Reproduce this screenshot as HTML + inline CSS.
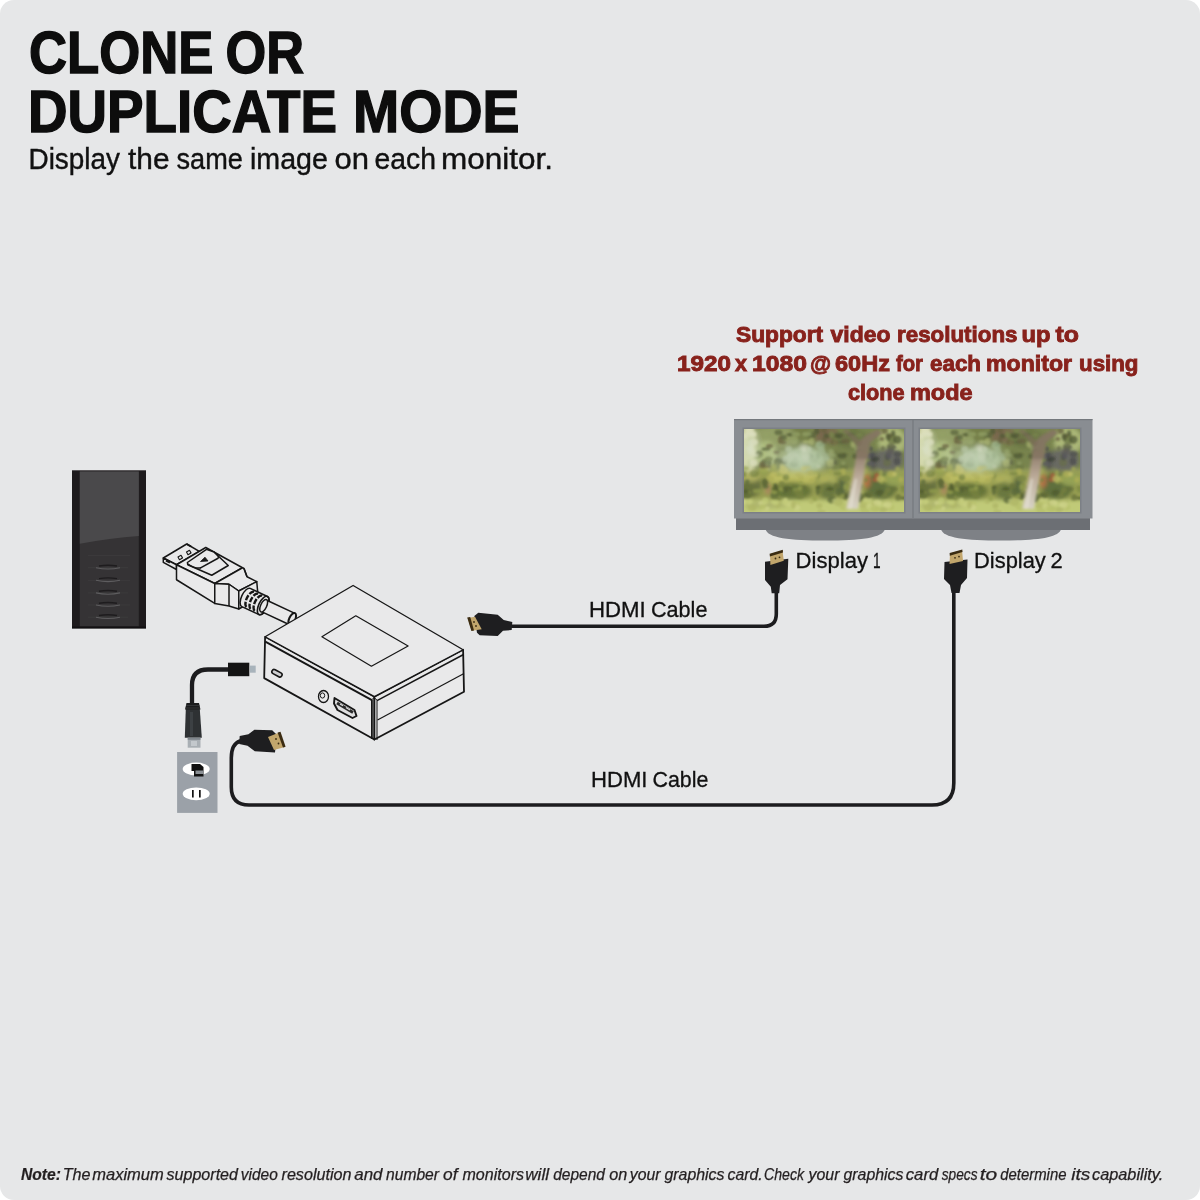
<!DOCTYPE html>
<html><head><meta charset="utf-8">
<style>
html,body{margin:0;padding:0;background:#fff;width:1200px;height:1200px;overflow:hidden}
#bg{position:absolute;left:0;top:0;width:1200px;height:1200px;background:#e6e7e8;border-radius:14px}
svg{position:absolute;left:0;top:0;will-change:transform}
text{font-family:"Liberation Sans",sans-serif}
</style></head><body>
<div id="bg"></div>
<svg width="1200" height="1200" viewBox="0 0 1200 1200">
<defs>
<filter id="blur" x="-10%" y="-10%" width="120%" height="120%"><feGaussianBlur stdDeviation="2.3"/></filter>
<filter id="blur3" x="-10%" y="-10%" width="120%" height="120%"><feGaussianBlur stdDeviation="1.5"/></filter>
<filter id="blur2" x="-10%" y="-10%" width="120%" height="120%"><feGaussianBlur stdDeviation="1.1"/></filter>
<linearGradient id="trunkG" x1="0" y1="0" x2="0" y2="1"><stop offset="0" stop-color="#806a60"/><stop offset="0.45" stop-color="#b8a49a"/><stop offset="1" stop-color="#d8d2cc"/></linearGradient>
<clipPath id="scr"><rect x="0" y="0" width="160" height="83"/></clipPath>
<linearGradient id="towerTop" x1="0" y1="0" x2="0" y2="1">
<stop offset="0" stop-color="#4a494b"/><stop offset="1" stop-color="#3d3c3e"/>
</linearGradient>
<g id="scene">
<rect x="0" y="0" width="160" height="83" fill="#8f985a"/>
<g filter="url(#blur)">
<rect x="-5" y="-5" width="170" height="45" fill="#6c7844"/>
<ellipse cx="30" cy="8" rx="26" ry="10" fill="#8a9660"/>
<ellipse cx="82" cy="6" rx="14" ry="8" fill="#6e5a44"/>
<ellipse cx="60" cy="5" rx="12" ry="6" fill="#66703e"/>
<ellipse cx="108" cy="10" rx="18" ry="10" fill="#5f6a3c"/>
<ellipse cx="148" cy="12" rx="14" ry="14" fill="#a6b274"/>
<ellipse cx="4" cy="20" rx="8" ry="26" fill="#d4d6a6"/>
<ellipse cx="22" cy="26" rx="11" ry="14" fill="#a8b87c"/>
<ellipse cx="60" cy="31" rx="22" ry="12" fill="#9db38c"/>
<ellipse cx="60" cy="20" rx="4" ry="4" fill="#c8cfb8"/>
<ellipse cx="89" cy="34" rx="4" ry="3.5" fill="#3a3e30"/>
<ellipse cx="144" cy="31" rx="15" ry="12" fill="#5a5a5c"/>
<rect x="126" y="22" width="6" height="20" fill="#46464a"/>
<rect x="-5" y="42" width="170" height="32" fill="#8e9448"/>
<ellipse cx="8" cy="56" rx="10" ry="12" fill="#5a6436"/>
<ellipse cx="7" cy="48" rx="9" ry="5" fill="#a8a85a"/>
<ellipse cx="48" cy="49" rx="24" ry="7" fill="#b6b65a"/>
<ellipse cx="48" cy="62" rx="20" ry="9" fill="#59672f"/>
<ellipse cx="83" cy="50" rx="9" ry="6" fill="#a4a856"/>
<ellipse cx="84" cy="62" rx="9" ry="9" fill="#5c6a34"/>
<ellipse cx="98" cy="58" rx="5" ry="10" fill="#4a5a34"/>
<ellipse cx="137" cy="57" rx="16" ry="14" fill="#4f6030"/>
<ellipse cx="150" cy="50" rx="10" ry="7" fill="#8c9a4e"/>
<ellipse cx="123" cy="52" rx="3.5" ry="7" fill="#b0603e"/>
<ellipse cx="24" cy="60" rx="2.5" ry="6" fill="#a87858"/>
<rect x="-5" y="71" width="170" height="17" fill="#bec874"/>
<ellipse cx="22" cy="76" rx="22" ry="3" fill="#a4aa66"/>
</g>
<g filter="url(#blur2)">
<ellipse cx="72.4" cy="46.5" rx="3.4" ry="3.6" fill="#6e7a3a" opacity="0.75"/>
<ellipse cx="30.4" cy="66.7" rx="3.9" ry="3.5" fill="#4a5a2c" opacity="0.75"/>
<ellipse cx="15.1" cy="25.2" rx="3.6" ry="3.7" fill="#4a5430" opacity="0.75"/>
<ellipse cx="101.5" cy="49.4" rx="4.9" ry="3.1" fill="#6e7a3a" opacity="0.75"/>
<ellipse cx="98.5" cy="13.1" rx="4.5" ry="1.7" fill="#4a5430" opacity="0.75"/>
<ellipse cx="5.7" cy="73.0" rx="2.1" ry="2.7" fill="#cdd28a" opacity="0.75"/>
<ellipse cx="70.5" cy="69.9" rx="2.7" ry="2.2" fill="#8a9444" opacity="0.75"/>
<ellipse cx="0.7" cy="7.1" rx="3.2" ry="2.9" fill="#e0dfc0" opacity="0.75"/>
<ellipse cx="149.1" cy="6.9" rx="2.9" ry="2.1" fill="#6e7a44" opacity="0.75"/>
<ellipse cx="46.2" cy="5.8" rx="2.3" ry="1.8" fill="#3e4628" opacity="0.75"/>
<ellipse cx="46.5" cy="5.5" rx="4.5" ry="1.5" fill="#4a5430" opacity="0.75"/>
<ellipse cx="33.6" cy="75.6" rx="3.1" ry="3.3" fill="#a9b060" opacity="0.75"/>
<ellipse cx="67.2" cy="47.0" rx="4.3" ry="2.2" fill="#b8b65c" opacity="0.75"/>
<ellipse cx="13.9" cy="27.6" rx="4.3" ry="1.8" fill="#8a9860" opacity="0.75"/>
<ellipse cx="39.4" cy="8.4" rx="3.4" ry="2.7" fill="#4a5430" opacity="0.75"/>
<ellipse cx="109.1" cy="15.6" rx="2.6" ry="3.3" fill="#a0aa68" opacity="0.75"/>
<ellipse cx="21.0" cy="53.4" rx="3.2" ry="4.0" fill="#3e4a24" opacity="0.75"/>
<ellipse cx="0.1" cy="71.7" rx="2.9" ry="3.7" fill="#cdd28a" opacity="0.75"/>
<ellipse cx="33.7" cy="32.7" rx="3.8" ry="2.9" fill="#3e4628" opacity="0.75"/>
<ellipse cx="6.7" cy="12.1" rx="2.8" ry="3.4" fill="#b8c090" opacity="0.75"/>
<ellipse cx="52.6" cy="24.6" rx="2.2" ry="2.0" fill="#98ac88" opacity="0.75"/>
<ellipse cx="101.9" cy="1.3" rx="3.1" ry="2.6" fill="#6e7a44" opacity="0.75"/>
<ellipse cx="153.5" cy="40.1" rx="2.4" ry="2.5" fill="#9aa04e" opacity="0.75"/>
<ellipse cx="100.4" cy="25.8" rx="4.5" ry="2.1" fill="#5e6a3a" opacity="0.75"/>
<ellipse cx="30.4" cy="61.4" rx="2.6" ry="3.9" fill="#8a9444" opacity="0.75"/>
<ellipse cx="141.2" cy="50.1" rx="2.3" ry="2.8" fill="#aaa850" opacity="0.75"/>
<ellipse cx="40.8" cy="61.4" rx="2.8" ry="3.6" fill="#4a5a2c" opacity="0.75"/>
<ellipse cx="95.4" cy="24.4" rx="4.8" ry="3.9" fill="#5e6a3a" opacity="0.75"/>
<ellipse cx="20.2" cy="39.8" rx="4.6" ry="3.0" fill="#c0bc64" opacity="0.75"/>
<ellipse cx="44.8" cy="76.1" rx="4.2" ry="1.7" fill="#c6cc7e" opacity="0.75"/>
<ellipse cx="65.8" cy="20.7" rx="2.5" ry="2.4" fill="#98ac88" opacity="0.75"/>
<ellipse cx="91.5" cy="10.9" rx="2.4" ry="2.6" fill="#6e7a44" opacity="0.75"/>
<ellipse cx="53.0" cy="60.8" rx="3.8" ry="1.9" fill="#8a9444" opacity="0.75"/>
<ellipse cx="5.6" cy="1.5" rx="4.1" ry="3.9" fill="#e0dfc0" opacity="0.75"/>
<ellipse cx="3.4" cy="52.8" rx="2.2" ry="2.3" fill="#4a5a2c" opacity="0.75"/>
<ellipse cx="21.9" cy="6.0" rx="3.6" ry="3.3" fill="#8a9860" opacity="0.75"/>
<ellipse cx="144.0" cy="61.2" rx="3.1" ry="3.2" fill="#6a7434" opacity="0.75"/>
<ellipse cx="144.1" cy="72.3" rx="4.8" ry="1.6" fill="#a9b060" opacity="0.75"/>
<ellipse cx="80.0" cy="1.2" rx="3.1" ry="3.0" fill="#5a5234" opacity="0.75"/>
<ellipse cx="97.4" cy="6.7" rx="2.3" ry="2.1" fill="#5a5234" opacity="0.75"/>
<ellipse cx="66.6" cy="27.4" rx="3.4" ry="2.7" fill="#7e9470" opacity="0.75"/>
<ellipse cx="86.6" cy="43.1" rx="2.1" ry="3.0" fill="#9aa04e" opacity="0.75"/>
<ellipse cx="77.0" cy="19.1" rx="3.5" ry="3.0" fill="#98ac88" opacity="0.75"/>
<ellipse cx="147.3" cy="21.2" rx="3.1" ry="1.9" fill="#4a4858" opacity="0.75"/>
<ellipse cx="97.9" cy="43.0" rx="4.0" ry="2.6" fill="#8e9a48" opacity="0.75"/>
<ellipse cx="142.7" cy="27.1" rx="2.6" ry="2.6" fill="#5a6040" opacity="0.75"/>
<ellipse cx="129.0" cy="75.9" rx="3.2" ry="3.0" fill="#c6cc7e" opacity="0.75"/>
<ellipse cx="50.6" cy="11.3" rx="3.1" ry="3.7" fill="#8a9860" opacity="0.75"/>
<ellipse cx="6.5" cy="5.3" rx="4.5" ry="1.8" fill="#e0dfc0" opacity="0.75"/>
<ellipse cx="75.4" cy="76.8" rx="3.1" ry="2.8" fill="#a9b060" opacity="0.75"/>
<ellipse cx="107.5" cy="59.5" rx="3.4" ry="1.7" fill="#8a9444" opacity="0.75"/>
<ellipse cx="5.0" cy="72.4" rx="4.0" ry="2.2" fill="#bfc874" opacity="0.75"/>
<ellipse cx="56.7" cy="53.9" rx="2.1" ry="1.8" fill="#8a9444" opacity="0.75"/>
<ellipse cx="72.8" cy="2.1" rx="2.8" ry="3.4" fill="#3e4628" opacity="0.75"/>
<ellipse cx="127.5" cy="81.7" rx="3.3" ry="3.1" fill="#bfc874" opacity="0.75"/>
<ellipse cx="104.8" cy="67.0" rx="4.1" ry="2.0" fill="#3e4a24" opacity="0.75"/>
<ellipse cx="76.0" cy="14.8" rx="4.3" ry="2.8" fill="#98ac88" opacity="0.75"/>
<ellipse cx="5.8" cy="18.8" rx="3.6" ry="3.9" fill="#e0dfc0" opacity="0.75"/>
<ellipse cx="80.1" cy="82.7" rx="3.2" ry="3.5" fill="#c6cc7e" opacity="0.75"/>
<ellipse cx="145.0" cy="7.2" rx="3.2" ry="2.6" fill="#5a5234" opacity="0.75"/>
<ellipse cx="31.5" cy="73.6" rx="3.1" ry="2.9" fill="#bfc874" opacity="0.75"/>
<ellipse cx="140.7" cy="66.1" rx="3.4" ry="3.1" fill="#6a7434" opacity="0.75"/>
<ellipse cx="32.8" cy="59.9" rx="4.8" ry="1.8" fill="#34401e" opacity="0.75"/>
<ellipse cx="38.8" cy="32.4" rx="4.9" ry="2.8" fill="#4a5430" opacity="0.75"/>
<ellipse cx="126.5" cy="26.6" rx="3.0" ry="1.7" fill="#4a4858" opacity="0.75"/>
<ellipse cx="70.5" cy="45.7" rx="3.5" ry="1.6" fill="#8e9a48" opacity="0.75"/>
<ellipse cx="129.5" cy="5.3" rx="2.1" ry="2.8" fill="#3e4628" opacity="0.75"/>
<ellipse cx="109.9" cy="76.0" rx="2.4" ry="2.8" fill="#a9b060" opacity="0.75"/>
<ellipse cx="115.8" cy="69.7" rx="3.3" ry="3.7" fill="#34401e" opacity="0.75"/>
<ellipse cx="92.6" cy="57.2" rx="3.3" ry="2.9" fill="#56622e" opacity="0.75"/>
<ellipse cx="133.0" cy="46.6" rx="2.9" ry="2.5" fill="#a84a30" opacity="0.75"/>
<ellipse cx="135.2" cy="74.7" rx="2.9" ry="1.9" fill="#c6cc7e" opacity="0.75"/>
<ellipse cx="87.2" cy="22.7" rx="2.6" ry="2.8" fill="#8a9860" opacity="0.75"/>
<ellipse cx="80.5" cy="50.2" rx="3.6" ry="1.6" fill="#aaa850" opacity="0.75"/>
<ellipse cx="146.8" cy="45.2" rx="3.5" ry="3.2" fill="#aaa850" opacity="0.75"/>
<ellipse cx="10.5" cy="44.7" rx="4.8" ry="3.5" fill="#6e7a3a" opacity="0.75"/>
<ellipse cx="64.7" cy="20.4" rx="2.4" ry="2.6" fill="#b4c0a4" opacity="0.75"/>
<ellipse cx="130.5" cy="74.7" rx="3.6" ry="1.8" fill="#a9b060" opacity="0.75"/>
<ellipse cx="67.1" cy="2.4" rx="2.4" ry="3.4" fill="#6e7a44" opacity="0.75"/>
<ellipse cx="3.6" cy="16.1" rx="2.0" ry="2.2" fill="#cfd0a0" opacity="0.75"/>
<ellipse cx="115.8" cy="20.3" rx="2.3" ry="3.3" fill="#8a9860" opacity="0.75"/>
<ellipse cx="19.6" cy="42.4" rx="4.2" ry="3.3" fill="#8e9a48" opacity="0.75"/>
<ellipse cx="140.6" cy="1.9" rx="3.2" ry="2.8" fill="#5a5234" opacity="0.75"/>
<ellipse cx="25.6" cy="17.0" rx="3.6" ry="2.0" fill="#5a5234" opacity="0.75"/>
<ellipse cx="34.6" cy="45.1" rx="4.6" ry="2.1" fill="#9aa04e" opacity="0.75"/>
<ellipse cx="118.5" cy="67.3" rx="2.9" ry="2.3" fill="#56622e" opacity="0.75"/>
<ellipse cx="147.6" cy="18.1" rx="4.7" ry="1.8" fill="#3a3a44" opacity="0.75"/>
<ellipse cx="38.3" cy="60.3" rx="3.2" ry="2.6" fill="#6a7434" opacity="0.75"/>
<ellipse cx="150.6" cy="45.1" rx="2.4" ry="2.5" fill="#c0bc64" opacity="0.75"/>
<ellipse cx="109.6" cy="1.5" rx="3.7" ry="2.4" fill="#5e6a3a" opacity="0.75"/>
<ellipse cx="131.4" cy="30.0" rx="3.9" ry="2.4" fill="#2e3030" opacity="0.75"/>
<ellipse cx="159.8" cy="69.1" rx="3.4" ry="1.6" fill="#3e4a24" opacity="0.75"/>
<ellipse cx="121.9" cy="50.9" rx="2.4" ry="2.0" fill="#6e7a3a" opacity="0.75"/>
<ellipse cx="32.6" cy="69.7" rx="4.8" ry="1.7" fill="#6a7434" opacity="0.75"/>
<ellipse cx="9.9" cy="79.0" rx="2.2" ry="1.7" fill="#a9b060" opacity="0.75"/>
<ellipse cx="62.5" cy="35.4" rx="3.3" ry="3.0" fill="#8ea47c" opacity="0.75"/>
<ellipse cx="2.1" cy="58.2" rx="2.5" ry="2.6" fill="#56622e" opacity="0.75"/>
<ellipse cx="118.3" cy="33.6" rx="3.8" ry="1.7" fill="#5e6a3a" opacity="0.75"/>
<ellipse cx="126.8" cy="26.9" rx="4.4" ry="3.3" fill="#4a4858" opacity="0.75"/>
<ellipse cx="137.7" cy="52.2" rx="2.6" ry="3.0" fill="#8a9444" opacity="0.75"/>
<ellipse cx="54.6" cy="63.3" rx="4.7" ry="3.4" fill="#6a7434" opacity="0.75"/>
<ellipse cx="124.5" cy="67.6" rx="2.4" ry="2.3" fill="#4a5a2c" opacity="0.75"/>
<ellipse cx="86.2" cy="30.7" rx="4.3" ry="2.5" fill="#8a9860" opacity="0.75"/>
<ellipse cx="115.6" cy="5.9" rx="2.9" ry="1.8" fill="#6e7a44" opacity="0.75"/>
<ellipse cx="142.1" cy="82.2" rx="2.1" ry="2.2" fill="#cdd28a" opacity="0.75"/>
<ellipse cx="153.8" cy="24.8" rx="4.0" ry="2.9" fill="#3a3a44" opacity="0.75"/>
<ellipse cx="85.3" cy="32.3" rx="3.9" ry="3.3" fill="#8a9860" opacity="0.75"/>
<ellipse cx="121.9" cy="81.3" rx="2.3" ry="1.8" fill="#bfc874" opacity="0.75"/>
<ellipse cx="37.9" cy="36.8" rx="2.2" ry="2.0" fill="#a0aa68" opacity="0.75"/>
<ellipse cx="60.1" cy="8.2" rx="2.8" ry="2.4" fill="#6e7a44" opacity="0.75"/>
<ellipse cx="86.5" cy="34.5" rx="3.7" ry="4.0" fill="#a0aa68" opacity="0.75"/>
<ellipse cx="102.1" cy="67.2" rx="3.6" ry="3.2" fill="#3e4a24" opacity="0.75"/>
<ellipse cx="152.9" cy="32.1" rx="3.2" ry="3.9" fill="#3a3a44" opacity="0.75"/>
<ellipse cx="136.9" cy="45.0" rx="2.2" ry="3.9" fill="#9aa04e" opacity="0.75"/>
<ellipse cx="67.3" cy="43.7" rx="2.9" ry="2.8" fill="#9aa04e" opacity="0.75"/>
<ellipse cx="77.3" cy="22.4" rx="4.0" ry="3.4" fill="#8ea47c" opacity="0.75"/>
<ellipse cx="4.3" cy="64.1" rx="2.1" ry="1.9" fill="#8a9444" opacity="0.75"/>
<ellipse cx="120.7" cy="32.4" rx="4.2" ry="1.6" fill="#6e7a44" opacity="0.75"/>
<ellipse cx="158.2" cy="78.4" rx="4.4" ry="2.1" fill="#bfc874" opacity="0.75"/>
<ellipse cx="115.1" cy="20.8" rx="2.7" ry="2.8" fill="#3e4628" opacity="0.75"/>
<ellipse cx="150.0" cy="60.0" rx="3.8" ry="1.8" fill="#56622e" opacity="0.75"/>
<ellipse cx="99.9" cy="37.8" rx="4.6" ry="2.4" fill="#5e6a3a" opacity="0.75"/>
<ellipse cx="24.8" cy="30.2" rx="4.0" ry="2.6" fill="#5e6a3a" opacity="0.75"/>
<ellipse cx="41.9" cy="48.3" rx="3.1" ry="3.4" fill="#6e7a3a" opacity="0.75"/>
<ellipse cx="130.4" cy="11.4" rx="4.2" ry="2.1" fill="#6e7a44" opacity="0.75"/>
<ellipse cx="18.2" cy="74.1" rx="3.9" ry="2.4" fill="#cdd28a" opacity="0.75"/>
<ellipse cx="43.4" cy="56.9" rx="4.1" ry="2.0" fill="#8a9444" opacity="0.75"/>
<ellipse cx="44.6" cy="19.9" rx="3.5" ry="3.1" fill="#a8b898" opacity="0.75"/>
<ellipse cx="31.4" cy="56.7" rx="2.2" ry="2.2" fill="#34401e" opacity="0.75"/>
<ellipse cx="68.0" cy="51.7" rx="2.7" ry="2.2" fill="#aaa850" opacity="0.75"/>
<ellipse cx="120.9" cy="75.8" rx="3.7" ry="3.1" fill="#c6cc7e" opacity="0.75"/>
<ellipse cx="59.7" cy="39.7" rx="3.0" ry="2.7" fill="#b8b65c" opacity="0.75"/>
<ellipse cx="21.3" cy="72.2" rx="3.3" ry="3.6" fill="#bfc874" opacity="0.75"/>
<ellipse cx="134.1" cy="63.8" rx="3.3" ry="2.1" fill="#4a5a2c" opacity="0.75"/>
<ellipse cx="129.6" cy="30.6" rx="3.0" ry="2.9" fill="#2e3030" opacity="0.75"/>
<ellipse cx="119.4" cy="76.4" rx="4.0" ry="3.0" fill="#a9b060" opacity="0.75"/>
<ellipse cx="73.9" cy="26.9" rx="2.2" ry="2.9" fill="#7e9470" opacity="0.75"/>
<ellipse cx="77.6" cy="56.9" rx="4.5" ry="1.5" fill="#6a7434" opacity="0.75"/>
<ellipse cx="49.6" cy="75.6" rx="2.2" ry="2.3" fill="#cdd28a" opacity="0.75"/>
<ellipse cx="116.0" cy="57.6" rx="2.7" ry="3.1" fill="#56622e" opacity="0.75"/>
<ellipse cx="52.3" cy="75.2" rx="4.1" ry="2.9" fill="#b3bc66" opacity="0.75"/>
<ellipse cx="147.0" cy="78.0" rx="3.3" ry="3.5" fill="#b3bc66" opacity="0.75"/>
<ellipse cx="48.8" cy="26.4" rx="4.9" ry="3.3" fill="#b4c0a4" opacity="0.75"/>
<ellipse cx="82.6" cy="7.0" rx="3.1" ry="2.4" fill="#3e4628" opacity="0.75"/>
<ellipse cx="63.3" cy="32.2" rx="4.2" ry="2.4" fill="#a8b898" opacity="0.75"/>
<ellipse cx="62.4" cy="12.8" rx="3.7" ry="1.9" fill="#a0aa68" opacity="0.75"/>
<ellipse cx="121.4" cy="73.1" rx="4.4" ry="2.1" fill="#b3bc66" opacity="0.75"/>
<ellipse cx="9.2" cy="13.2" rx="4.9" ry="3.1" fill="#e0dfc0" opacity="0.75"/>
<ellipse cx="128.7" cy="5.3" rx="2.9" ry="2.9" fill="#a0aa68" opacity="0.75"/>
<ellipse cx="53.5" cy="22.7" rx="4.7" ry="1.7" fill="#98ac88" opacity="0.75"/>
<ellipse cx="101.5" cy="11.9" rx="4.4" ry="2.6" fill="#5a5234" opacity="0.75"/>
<ellipse cx="114.0" cy="40.6" rx="3.0" ry="2.6" fill="#9aa04e" opacity="0.75"/>
<ellipse cx="56.1" cy="67.0" rx="4.0" ry="2.7" fill="#6a7434" opacity="0.75"/>
<ellipse cx="86.0" cy="59.8" rx="3.9" ry="1.6" fill="#34401e" opacity="0.75"/>
<ellipse cx="121.1" cy="81.8" rx="4.6" ry="3.5" fill="#b3bc66" opacity="0.75"/>
<ellipse cx="133.4" cy="73.8" rx="3.9" ry="2.8" fill="#cdd28a" opacity="0.75"/>
<ellipse cx="113.6" cy="66.6" rx="4.8" ry="3.8" fill="#4a5a2c" opacity="0.75"/>
<ellipse cx="39.3" cy="13.5" rx="3.1" ry="1.9" fill="#5a5234" opacity="0.75"/>
<ellipse cx="32.7" cy="35.3" rx="2.8" ry="3.7" fill="#6e7a44" opacity="0.75"/>
<ellipse cx="75.4" cy="60.7" rx="3.9" ry="3.4" fill="#6a7434" opacity="0.75"/>
<ellipse cx="28.7" cy="5.2" rx="2.1" ry="2.7" fill="#8a9860" opacity="0.75"/>
<ellipse cx="128.1" cy="25.9" rx="2.6" ry="2.0" fill="#3a3a44" opacity="0.75"/>
<ellipse cx="37.7" cy="59.5" rx="3.5" ry="2.6" fill="#8a9444" opacity="0.75"/>
<ellipse cx="143.1" cy="33.4" rx="3.9" ry="3.9" fill="#5a6040" opacity="0.75"/>
<ellipse cx="88.1" cy="70.8" rx="4.7" ry="3.8" fill="#4a5a2c" opacity="0.75"/>
<ellipse cx="54.7" cy="45.4" rx="3.4" ry="2.1" fill="#aaa850" opacity="0.75"/>
<ellipse cx="8.0" cy="78.6" rx="4.9" ry="3.5" fill="#a9b060" opacity="0.75"/>
<ellipse cx="123.9" cy="65.4" rx="4.0" ry="2.1" fill="#3e4a24" opacity="0.75"/>
<ellipse cx="1.7" cy="39.2" rx="3.4" ry="2.1" fill="#8e9a48" opacity="0.75"/>
<ellipse cx="67.4" cy="72.6" rx="2.5" ry="2.3" fill="#a9b060" opacity="0.75"/>
<ellipse cx="41.5" cy="72.1" rx="2.4" ry="3.4" fill="#cdd28a" opacity="0.75"/>
<ellipse cx="99.1" cy="42.8" rx="2.5" ry="3.4" fill="#aaa850" opacity="0.75"/>
<ellipse cx="0.2" cy="68.2" rx="4.5" ry="1.7" fill="#56622e" opacity="0.75"/>
<ellipse cx="43.2" cy="59.5" rx="4.7" ry="3.2" fill="#3e4a24" opacity="0.75"/>
<ellipse cx="13.3" cy="62.1" rx="4.6" ry="2.3" fill="#8a9444" opacity="0.75"/>
<ellipse cx="126.3" cy="34.6" rx="4.3" ry="2.6" fill="#4a4858" opacity="0.75"/>
<ellipse cx="6.0" cy="34.3" rx="2.5" ry="3.6" fill="#b8c090" opacity="0.75"/>
<ellipse cx="49.8" cy="25.8" rx="3.7" ry="4.0" fill="#98ac88" opacity="0.75"/>
<ellipse cx="106.7" cy="5.6" rx="4.1" ry="1.8" fill="#4a5430" opacity="0.75"/>
<ellipse cx="63.1" cy="38.3" rx="4.0" ry="1.5" fill="#aaa850" opacity="0.75"/>
<ellipse cx="60.3" cy="58.9" rx="2.9" ry="1.8" fill="#56622e" opacity="0.75"/>
<ellipse cx="123.5" cy="71.1" rx="4.7" ry="1.9" fill="#c6cc7e" opacity="0.75"/>
<ellipse cx="100.4" cy="77.8" rx="4.9" ry="3.4" fill="#b3bc66" opacity="0.75"/>
<ellipse cx="88.9" cy="7.2" rx="2.6" ry="3.3" fill="#5e6a3a" opacity="0.75"/>
<ellipse cx="52.7" cy="78.4" rx="3.4" ry="3.1" fill="#cdd28a" opacity="0.75"/>
<ellipse cx="71.5" cy="31.7" rx="2.4" ry="1.7" fill="#98ac88" opacity="0.75"/>
<ellipse cx="108.4" cy="58.8" rx="2.6" ry="1.6" fill="#56622e" opacity="0.75"/>
<ellipse cx="74.1" cy="58.4" rx="2.7" ry="1.9" fill="#3e4a24" opacity="0.75"/>
<ellipse cx="19.9" cy="33.8" rx="3.0" ry="3.6" fill="#4a5430" opacity="0.75"/>
<ellipse cx="148.3" cy="11.5" rx="4.3" ry="3.6" fill="#5e6a3a" opacity="0.75"/>
<ellipse cx="61.8" cy="27.5" rx="3.9" ry="3.3" fill="#b4c0a4" opacity="0.75"/>
<ellipse cx="98.1" cy="26.4" rx="4.4" ry="3.2" fill="#3e4628" opacity="0.75"/>
<ellipse cx="97.4" cy="1.5" rx="2.6" ry="2.3" fill="#6e7a44" opacity="0.75"/>
<ellipse cx="70.6" cy="46.2" rx="3.5" ry="3.5" fill="#b8b65c" opacity="0.75"/>
<ellipse cx="132.0" cy="50.7" rx="3.6" ry="2.4" fill="#a84a30" opacity="0.75"/>
<ellipse cx="80.1" cy="11.8" rx="2.6" ry="3.8" fill="#5a5234" opacity="0.75"/>
<ellipse cx="159.7" cy="58.7" rx="3.7" ry="1.6" fill="#56622e" opacity="0.75"/>
<ellipse cx="105.5" cy="64.5" rx="2.7" ry="2.9" fill="#56622e" opacity="0.75"/>
<ellipse cx="111.5" cy="27.3" rx="3.1" ry="2.7" fill="#3e4628" opacity="0.75"/>
<ellipse cx="19.8" cy="80.8" rx="2.7" ry="2.9" fill="#c6cc7e" opacity="0.75"/>
<ellipse cx="87.4" cy="5.3" rx="2.5" ry="3.4" fill="#6e7a44" opacity="0.75"/>
<ellipse cx="143.5" cy="27.8" rx="2.4" ry="3.6" fill="#3a3a44" opacity="0.75"/>
<ellipse cx="46.2" cy="74.5" rx="4.3" ry="2.4" fill="#c6cc7e" opacity="0.75"/>
<ellipse cx="26.5" cy="49.6" rx="3.4" ry="2.5" fill="#aaa850" opacity="0.75"/>
<ellipse cx="125.2" cy="77.2" rx="2.9" ry="3.2" fill="#c6cc7e" opacity="0.75"/>
<ellipse cx="118.0" cy="31.7" rx="3.9" ry="3.4" fill="#a0aa68" opacity="0.75"/>
<ellipse cx="25.4" cy="34.2" rx="2.4" ry="2.5" fill="#4a5430" opacity="0.75"/>
<ellipse cx="91.1" cy="14.4" rx="2.4" ry="2.1" fill="#a0aa68" opacity="0.75"/>
<ellipse cx="149.1" cy="4.4" rx="2.1" ry="3.2" fill="#3e4628" opacity="0.75"/>
<ellipse cx="23.2" cy="79.6" rx="2.3" ry="2.4" fill="#cdd28a" opacity="0.75"/>
<ellipse cx="143.5" cy="75.8" rx="4.3" ry="3.4" fill="#cdd28a" opacity="0.75"/>
<ellipse cx="77.7" cy="82.6" rx="4.5" ry="1.8" fill="#a9b060" opacity="0.75"/>
<ellipse cx="18.3" cy="77.9" rx="3.6" ry="2.6" fill="#b3bc66" opacity="0.75"/>
<ellipse cx="144.7" cy="26.6" rx="2.9" ry="3.0" fill="#4a4858" opacity="0.75"/>
<ellipse cx="69.3" cy="31.2" rx="4.3" ry="2.3" fill="#8ea47c" opacity="0.75"/>
<ellipse cx="94.9" cy="5.8" rx="4.5" ry="2.1" fill="#4a5430" opacity="0.75"/>
<ellipse cx="139.7" cy="80.7" rx="4.1" ry="2.8" fill="#a9b060" opacity="0.75"/>
<ellipse cx="38.3" cy="25.4" rx="4.8" ry="3.7" fill="#8a9860" opacity="0.75"/>
<ellipse cx="159.9" cy="60.7" rx="3.1" ry="2.9" fill="#34401e" opacity="0.75"/>
<ellipse cx="90.2" cy="13.6" rx="4.2" ry="2.9" fill="#5a5234" opacity="0.75"/>
<ellipse cx="144.5" cy="8.2" rx="2.4" ry="3.7" fill="#3e4628" opacity="0.75"/>
<ellipse cx="92.1" cy="37.6" rx="2.7" ry="2.2" fill="#6e7a44" opacity="0.75"/>
<ellipse cx="52.0" cy="5.2" rx="4.4" ry="2.5" fill="#8a9860" opacity="0.75"/>
<ellipse cx="57.0" cy="48.6" rx="2.9" ry="2.6" fill="#aaa850" opacity="0.75"/>
<ellipse cx="50.2" cy="26.9" rx="4.8" ry="3.9" fill="#a8b898" opacity="0.75"/>
<ellipse cx="75.6" cy="17.1" rx="4.6" ry="3.2" fill="#8ea47c" opacity="0.75"/>
<ellipse cx="9.4" cy="26.2" rx="4.7" ry="1.5" fill="#e0dfc0" opacity="0.75"/>
<ellipse cx="101.7" cy="57.9" rx="2.6" ry="3.1" fill="#8a9444" opacity="0.75"/>
<ellipse cx="30.6" cy="73.1" rx="4.0" ry="2.3" fill="#bfc874" opacity="0.75"/>
<ellipse cx="130.8" cy="79.8" rx="4.6" ry="3.3" fill="#b3bc66" opacity="0.75"/>
<ellipse cx="21.6" cy="57.8" rx="3.2" ry="1.9" fill="#4a5a2c" opacity="0.75"/>
<ellipse cx="137.8" cy="10.0" rx="2.6" ry="2.0" fill="#5a5234" opacity="0.75"/>
<ellipse cx="37.7" cy="55.2" rx="3.1" ry="3.2" fill="#6a7434" opacity="0.75"/>
<ellipse cx="141.5" cy="49.0" rx="4.7" ry="2.0" fill="#8e9a48" opacity="0.75"/>
<ellipse cx="36.2" cy="11.0" rx="2.3" ry="4.0" fill="#5a5234" opacity="0.75"/>
<ellipse cx="70.5" cy="43.8" rx="4.7" ry="1.5" fill="#9aa04e" opacity="0.75"/>
<ellipse cx="93.8" cy="44.6" rx="4.4" ry="1.7" fill="#6e7a3a" opacity="0.75"/>
<ellipse cx="45.6" cy="62.7" rx="2.5" ry="3.3" fill="#56622e" opacity="0.75"/>
<ellipse cx="4.6" cy="65.6" rx="5.0" ry="1.6" fill="#56622e" opacity="0.75"/>
<ellipse cx="73.9" cy="62.3" rx="2.0" ry="3.7" fill="#4a5a2c" opacity="0.75"/>
<ellipse cx="9.6" cy="5.3" rx="3.0" ry="2.7" fill="#e0dfc0" opacity="0.75"/>
<ellipse cx="5.1" cy="24.2" rx="3.8" ry="3.4" fill="#cfd0a0" opacity="0.75"/>
<ellipse cx="17.9" cy="36.2" rx="3.3" ry="3.4" fill="#5a5234" opacity="0.75"/>
<ellipse cx="125.9" cy="65.7" rx="2.8" ry="2.9" fill="#56622e" opacity="0.75"/>
<ellipse cx="136.4" cy="50.1" rx="3.8" ry="3.3" fill="#b8b65c" opacity="0.75"/>
<ellipse cx="91.6" cy="72.4" rx="3.0" ry="3.0" fill="#c6cc7e" opacity="0.75"/>
<ellipse cx="97.4" cy="66.9" rx="3.3" ry="2.2" fill="#8a9444" opacity="0.75"/>
<ellipse cx="127.8" cy="6.0" rx="3.7" ry="2.9" fill="#5e6a3a" opacity="0.75"/>
<ellipse cx="126.7" cy="19.8" rx="2.2" ry="2.6" fill="#3a3a44" opacity="0.75"/>
<ellipse cx="111.3" cy="68.0" rx="3.6" ry="2.2" fill="#34401e" opacity="0.75"/>
<ellipse cx="94.2" cy="7.3" rx="3.5" ry="2.4" fill="#3e4628" opacity="0.75"/>
<ellipse cx="39.7" cy="41.2" rx="4.5" ry="3.5" fill="#c0bc64" opacity="0.75"/>
<ellipse cx="9.8" cy="34.1" rx="4.1" ry="3.3" fill="#e0dfc0" opacity="0.75"/>
<ellipse cx="153.2" cy="10.7" rx="4.3" ry="4.0" fill="#3e4628" opacity="0.75"/>
<ellipse cx="23.1" cy="37.8" rx="5.0" ry="1.5" fill="#5a5234" opacity="0.75"/>
<ellipse cx="65.6" cy="43.6" rx="3.2" ry="2.2" fill="#aaa850" opacity="0.75"/>
<ellipse cx="67.9" cy="6.3" rx="4.0" ry="3.3" fill="#4a5430" opacity="0.75"/>
<ellipse cx="156.2" cy="50.8" rx="2.8" ry="2.9" fill="#8e9a48" opacity="0.75"/>
<ellipse cx="38.7" cy="38.3" rx="3.1" ry="2.3" fill="#b8b65c" opacity="0.75"/>
<ellipse cx="157.0" cy="50.7" rx="2.5" ry="3.0" fill="#aaa850" opacity="0.75"/>
<ellipse cx="159.2" cy="61.2" rx="4.1" ry="3.7" fill="#8a9444" opacity="0.75"/>
<ellipse cx="94.5" cy="73.6" rx="4.6" ry="3.8" fill="#a9b060" opacity="0.75"/>
<ellipse cx="34.1" cy="31.4" rx="2.6" ry="2.4" fill="#4a5430" opacity="0.75"/>
<ellipse cx="29.4" cy="45.6" rx="3.4" ry="2.5" fill="#b8b65c" opacity="0.75"/>
<ellipse cx="95.0" cy="63.0" rx="3.3" ry="4.0" fill="#4a5a2c" opacity="0.75"/>
<ellipse cx="108.7" cy="71.6" rx="3.6" ry="2.5" fill="#c6cc7e" opacity="0.75"/>
<ellipse cx="7.5" cy="22.9" rx="3.9" ry="2.8" fill="#e0dfc0" opacity="0.75"/>
<ellipse cx="118.7" cy="42.5" rx="4.8" ry="3.3" fill="#9aa04e" opacity="0.75"/>
<ellipse cx="43.0" cy="30.0" rx="4.2" ry="3.4" fill="#a8b898" opacity="0.75"/>
<ellipse cx="21.9" cy="20.0" rx="4.7" ry="1.6" fill="#3e4628" opacity="0.75"/>
<ellipse cx="51.5" cy="31.9" rx="4.6" ry="2.5" fill="#98ac88" opacity="0.75"/>
<ellipse cx="41.0" cy="72.9" rx="2.9" ry="3.0" fill="#bfc874" opacity="0.75"/>
<ellipse cx="78.1" cy="15.6" rx="3.8" ry="1.6" fill="#7e9470" opacity="0.75"/>
<ellipse cx="50.0" cy="35.2" rx="4.1" ry="2.8" fill="#7e9470" opacity="0.75"/>
<ellipse cx="87.7" cy="26.1" rx="4.0" ry="1.9" fill="#8a9860" opacity="0.75"/>
<ellipse cx="32.8" cy="23.3" rx="3.3" ry="1.8" fill="#5a5234" opacity="0.75"/>
<ellipse cx="82.7" cy="29.5" rx="2.9" ry="2.4" fill="#98ac88" opacity="0.75"/>
<ellipse cx="34.5" cy="3.4" rx="4.2" ry="2.7" fill="#4a5430" opacity="0.75"/>
<ellipse cx="1.8" cy="63.2" rx="2.9" ry="3.2" fill="#34401e" opacity="0.75"/>
<ellipse cx="147.1" cy="17.9" rx="4.0" ry="3.9" fill="#5a6040" opacity="0.75"/>
<ellipse cx="138.9" cy="19.5" rx="2.3" ry="2.6" fill="#5a6040" opacity="0.75"/>
<ellipse cx="62.8" cy="5.0" rx="4.8" ry="2.2" fill="#8a9860" opacity="0.75"/>
<ellipse cx="112.5" cy="18.4" rx="2.6" ry="3.4" fill="#8a9860" opacity="0.75"/>
<ellipse cx="56.1" cy="59.1" rx="2.3" ry="2.4" fill="#8a9444" opacity="0.75"/>
<ellipse cx="67.6" cy="12.5" rx="2.8" ry="3.6" fill="#a0aa68" opacity="0.75"/>
<ellipse cx="49.4" cy="75.9" rx="2.4" ry="3.8" fill="#a9b060" opacity="0.75"/>
<ellipse cx="146.0" cy="22.6" rx="3.5" ry="3.0" fill="#4e4a50" opacity="0.75"/>
<ellipse cx="75.0" cy="27.0" rx="2.2" ry="1.6" fill="#8ea47c" opacity="0.75"/>
<ellipse cx="51.8" cy="31.0" rx="2.8" ry="3.2" fill="#8ea47c" opacity="0.75"/>
<ellipse cx="29.8" cy="38.9" rx="3.0" ry="3.7" fill="#9aa04e" opacity="0.75"/>
<ellipse cx="5.0" cy="58.7" rx="4.3" ry="3.1" fill="#56622e" opacity="0.75"/>
<ellipse cx="99.3" cy="34.1" rx="2.2" ry="1.7" fill="#8a9860" opacity="0.75"/>
<ellipse cx="74.2" cy="37.3" rx="2.1" ry="1.8" fill="#b4c0a4" opacity="0.75"/>
<ellipse cx="81.1" cy="25.6" rx="3.4" ry="1.6" fill="#8ea47c" opacity="0.75"/>
<ellipse cx="96.9" cy="22.4" rx="4.0" ry="2.1" fill="#6e7a44" opacity="0.75"/>
<ellipse cx="0.1" cy="45.1" rx="2.0" ry="2.9" fill="#6e7a3a" opacity="0.75"/>
<ellipse cx="135.8" cy="63.5" rx="3.9" ry="2.9" fill="#3e4a24" opacity="0.75"/>
<ellipse cx="133.0" cy="80.4" rx="2.8" ry="1.8" fill="#b3bc66" opacity="0.75"/>
<ellipse cx="3.1" cy="66.9" rx="4.1" ry="3.2" fill="#56622e" opacity="0.75"/>
<ellipse cx="154.2" cy="68.4" rx="3.0" ry="3.2" fill="#56622e" opacity="0.75"/>
</g>
<g filter="url(#blur3)">
<polygon points="102,80 114,80 120,46 123,24 113,22 109,46" fill="url(#trunkG)"/>
<polygon points="112,30 113,14 122,6 134,0 138,4 126,14 124,30" fill="#7a665c" opacity="0.9"/>
<polygon points="114,18 104,6 98,2 102,0 112,8 118,14" fill="#6e5e50" opacity="0.8"/>
<polygon points="104,80 108,80 113,50 111,50" fill="#e6e0da" opacity="0.8"/>
</g>
</g>
<radialGradient id="mist" cx="0.5" cy="0.5" r="0.5"><stop offset="0" stop-color="#d4e0cc" stop-opacity="0.55"/><stop offset="1" stop-color="#d4e0cc" stop-opacity="0"/></radialGradient>
<g id="overlay">
<rect x="0" y="0" width="160" height="83" fill="#d8dc98" opacity="0.12"/>
<ellipse cx="55" cy="30" rx="40" ry="20" fill="url(#mist)"/>
<ellipse cx="6" cy="20" rx="14" ry="28" fill="url(#mist)"/>
</g>
</defs>

<!-- Title -->
<g fill="#0d0d0d" stroke="#0d0d0d" stroke-width="1.4" font-weight="bold" font-size="58.5">
<text x="29.00" y="73" textLength="184.50" lengthAdjust="spacingAndGlyphs">CLONE</text>
<text x="225.50" y="73" textLength="78.50" lengthAdjust="spacingAndGlyphs">OR</text>
<text x="28.00" y="131.8" textLength="309.00" lengthAdjust="spacingAndGlyphs">DUPLICATE</text>
<text x="353.00" y="131.8" textLength="166.50" lengthAdjust="spacingAndGlyphs">MODE</text>
</g>
<g font-size="29" fill="#111" stroke="#111" stroke-width="0.4">
<text x="28.50" y="168.7" textLength="91.50" lengthAdjust="spacingAndGlyphs">Display</text>
<text x="128.00" y="168.7" textLength="41.50" lengthAdjust="spacingAndGlyphs">the</text>
<text x="176.50" y="168.7" textLength="66.30" lengthAdjust="spacingAndGlyphs">same</text>
<text x="250.00" y="168.7" textLength="77.90" lengthAdjust="spacingAndGlyphs">image</text>
<text x="334.50" y="168.7" textLength="34.50" lengthAdjust="spacingAndGlyphs">on</text>
<text x="374.50" y="168.7" textLength="61.50" lengthAdjust="spacingAndGlyphs">each</text>
<text x="441.00" y="168.7" textLength="112.00" lengthAdjust="spacingAndGlyphs">monitor.</text>
</g>

<!-- Red text -->
<g fill="#88221c" stroke="#88221c" stroke-width="0.9" font-weight="bold" font-size="22.2">
<text x="736.00" y="342" textLength="87.20" lengthAdjust="spacingAndGlyphs">Support</text>
<text x="830.50" y="342" textLength="60.00" lengthAdjust="spacingAndGlyphs">video</text>
<text x="897.00" y="342" textLength="120.50" lengthAdjust="spacingAndGlyphs">resolutions</text>
<text x="1021.50" y="342" textLength="29.00" lengthAdjust="spacingAndGlyphs">up</text>
<text x="1055.50" y="342" textLength="23.50" lengthAdjust="spacingAndGlyphs">to</text>
<text x="677.00" y="371.3" textLength="54.00" lengthAdjust="spacingAndGlyphs">1920</text>
<text x="735.00" y="371.3" textLength="12.00" lengthAdjust="spacingAndGlyphs">x</text>
<text x="752.00" y="371.3" textLength="55.00" lengthAdjust="spacingAndGlyphs">1080</text>
<text x="810.00" y="371.3" textLength="21.00" lengthAdjust="spacingAndGlyphs">@</text>
<text x="835.00" y="371.3" textLength="55.00" lengthAdjust="spacingAndGlyphs">60Hz</text>
<text x="896.00" y="371.3" textLength="27.00" lengthAdjust="spacingAndGlyphs">for</text>
<text x="930.00" y="371.3" textLength="51.00" lengthAdjust="spacingAndGlyphs">each</text>
<text x="986.00" y="371.3" textLength="86.00" lengthAdjust="spacingAndGlyphs">monitor</text>
<text x="1079.00" y="371.3" textLength="59.50" lengthAdjust="spacingAndGlyphs">using</text>
<text x="848.00" y="400" textLength="56.65" lengthAdjust="spacingAndGlyphs">clone</text>
<text x="910.00" y="400" textLength="62.60" lengthAdjust="spacingAndGlyphs">mode</text>
</g>

<!-- Monitors -->
<g>
<path d="M765.5,529 C767,538 790,540.5 825.2,540.5 C860,540.5 883,538 885,529 Z" fill="#7e8186"/>
<path d="M941,529 C942.5,538 966,540.5 1001,540.5 C1036,540.5 1059,538 1061,529 Z" fill="#7e8186"/>
<rect x="736" y="516" width="354" height="14" fill="#6c6f74"/>
<rect x="734" y="419" width="179" height="99.5" fill="#898d92"/>
<rect x="913" y="419" width="179.5" height="99.5" fill="#898d92"/>
<rect x="734" y="419" width="358.5" height="1.2" fill="#74787d"/>
<rect x="742.5" y="427.5" width="163" height="86" fill="#7c8085"/>
<rect x="918.5" y="427.5" width="163" height="86" fill="#7c8085"/>
<line x1="913" y1="419" x2="913" y2="518" stroke="#75797e" stroke-width="1.2"/>
<g transform="translate(744,429)" clip-path="url(#scr)"><use href="#scene"/><use href="#overlay"/></g>
<g transform="translate(920,429)" clip-path="url(#scr)"><use href="#scene"/><use href="#overlay"/></g>
</g>

<!-- Tower -->
<g>
<rect x="72" y="470.3" width="74" height="158" fill="#1e1b1d"/>
<rect x="79.8" y="471.5" width="59" height="155" fill="#353335"/>
<path d="M79.8,471.5 H138.8 V536 Q110,538 79.8,543.8 Z" fill="#4a494b"/>
<g fill="none">
<g stroke="#3e3c3e" stroke-width="0.8">
<path d="M88,555.6 H130"/><path d="M88,567.7 H128"/><path d="M88,580.3 H130"/><path d="M88,592.9 H128"/><path d="M88,605 H130"/><path d="M88,617.2 H128"/>
</g>
<g stroke="#1e1c1e" stroke-width="1.4">
<path d="M99,566 Q108,564.5 117,566"/><path d="M99,578.6 Q108,577.1 117,578.6"/><path d="M99,591.2 Q108,589.7 117,591.2"/><path d="M99,603.3 Q108,601.8 117,603.3"/><path d="M99,615.5 Q108,614 117,615.5"/>
</g>
<g stroke="#5e5d5f" stroke-width="1.1">
<path d="M96,567.7 Q108,570.3 120,567.7"/><path d="M96,580.3 Q108,582.9 120,580.3"/><path d="M96,592.9 Q108,595.5 120,592.9"/><path d="M96,605 Q108,607.6 120,605"/><path d="M96,617.2 Q108,619.8 120,617.2"/>
</g>
</g>
<rect x="72" y="626.5" width="74" height="2" fill="#121012"/>
</g>

<!-- Cables -->
<g fill="none" stroke="#1c1c1e" stroke-width="3.6" stroke-linecap="round">
<path d="M510,626.3 H764 Q776.3,626.3 776.3,614 V592"/>
<path d="M240,741 Q231.3,744 231.3,758 V787 Q231.3,805 249,805 H932 Q953.8,805 953.8,783 V592"/>
<path d="M228,669.5 H208 Q192,669.5 192,685 V705" stroke-width="4.3"/>
</g>

<!-- DP connector line art -->
<g stroke="#161616" stroke-width="1.5" fill="#e9e9ea" stroke-linejoin="round">
<!-- tip -->
<path d="M163.3,558 L186.7,544 L199.3,551.3 L176.5,564.75 Z"/>
<path d="M163.3,558 L176.5,564.75 L176.5,569.5 L163.3,562.3 Z"/>
<path d="M166,560.5 L170,562.5" stroke-width="2"/>
<rect x="178.5" y="556" width="3.5" height="3" fill="none" stroke-width="1.1" transform="rotate(-30 180.2 557.5)"/>
<rect x="187" y="551" width="3.5" height="3" fill="none" stroke-width="1.1" transform="rotate(-30 188.7 552.5)"/>
<path d="M186.7,544 L191,546.5" stroke-width="2"/>
<!-- housing -->
<path d="M176.5,564.75 L205.75,547.5 L242.5,567.75 L214.75,583.5 Z"/>
<path d="M176.5,564.75 L214.75,583.5 L214.75,603.4 L176.5,579.75 Z"/>
<path d="M214.75,583.5 L242.5,567.75 L244,568.5 L247,576.75 L256.75,581.6 L238.75,591 L229,584.25 Z"/>
<path d="M214.75,583.5 L229,584.25 L238.75,591 L238.75,609 L229,606 L214.75,603.4 Z"/>
<path d="M229,584.25 L229,606" fill="none"/>
<path d="M238.75,591 L256.75,581.6 L258.25,598 L238.75,609 Z"/>
<path d="M244,568.5 L247,576.75" fill="none"/>
<!-- latch -->
<path d="M187.4,562.5 L206.5,549.4 L214,552 L228.25,565.5 L211.75,575.25 L187.75,564.75 Z"/>
<path d="M200.1,568.1 L218.5,558" fill="none"/>
<path d="M188,564 Q195,569 201,567.8" fill="none"/>
<path d="M214,552 Q219,556 218.5,558" fill="none"/>
<path d="M200.5,561.5 L205,557.2 L208,561 Z" fill="#1a1a1a" stroke-width="0.8"/>
</g>
<!-- strain relief + cable -->
<g transform="translate(246,597.5) rotate(25)" stroke="#161616" stroke-width="1.5" fill="#e9e9ea">
<path d="M0,-10 H19 A4.5,10 0 0 1 19,10 H0 A4.5,10 0 0 1 0,-10 Z"/>
<g fill="none" stroke-width="2.4" stroke-dasharray="5.5 1.5">
<path d="M5,-8.5 A4,8.5 0 0 0 5,8.5"/>
<path d="M9.5,-8.5 A4,8.5 0 0 0 9.5,8.5"/>
<path d="M14,-8.5 A4,8.5 0 0 0 14,8.5"/>
</g>
<ellipse cx="19" cy="0" rx="4.5" ry="10" fill="none" stroke-width="1.6"/>
<rect x="19" y="-6.3" width="32" height="12.6" stroke="none"/>
<path d="M20,-6.3 H51 M20,6.3 H51" fill="none" stroke-width="1.5"/>
<ellipse cx="19.5" cy="0" rx="3" ry="6.8" fill="#e9e9ea" stroke-width="1.5"/>
<ellipse cx="51" cy="0" rx="3" ry="6.5" stroke-width="2"/>
</g>

<!-- Adapter box -->
<g stroke="#161616" stroke-width="1.8" fill="#e9e9ea" stroke-linejoin="round">
<path d="M265.1,636.8 L374.4,696.6 L374.4,739.5 L264.2,678.1 Z"/>
<path d="M374.4,696.6 L463.1,649.7 L464,691.8 L374.4,739.5 Z"/>
<path d="M353.1,585.5 L463.1,649.7 L374.4,696.6 L265.1,636.8 Z" stroke-width="1.3"/>
<path d="M265.3,641.6 L371.9,700.2" fill="none" stroke-width="1.9"/>
<path d="M377,700.6 L463.6,654.5" fill="none" stroke-width="1.5"/>
<path d="M371.9,699.5 V739" fill="none" stroke-width="1.8"/>
<path d="M377,700.5 V740" fill="none" stroke-width="1"/>
<path d="M371.9,699.5 Q374.4,696 377,700.5" fill="none" stroke-width="1"/>
<path d="M377.5,720 L464,673.5" fill="none" stroke-width="1.2"/>
<path d="M355.8,615.75 L408.1,646 L371.4,666.2 L321.9,636.8 Z" stroke-width="1.2"/>
<rect x="271.5" y="671" width="11" height="4.5" rx="2.2" transform="rotate(29 277 673.2)" fill="#d0d0d2" stroke-width="1.6"/>
<ellipse cx="323.5" cy="696.5" rx="5" ry="6" stroke-width="1.3"/>
<ellipse cx="322.5" cy="695.5" rx="2.2" ry="2.6" fill="none" stroke-width="1"/>
<path d="M334.5,698 L354.5,710 L356.5,716 L352.5,718 L337.5,710 L334,703.5 Z" fill="#e0e0e1" stroke-width="1.9"/>
<path d="M337,703 L353,712.5" stroke="#2a2a2a" stroke-width="3"/>
<path d="M340,704 L343,705.8 M346,707.5 L350,710" stroke="#ddd" stroke-width="1.3"/>
</g>

<!-- HDMI connectors -->
<g fill="#1e1e20">
<polygon points="765,561.7 788.3,558.75 787.5,579.2 780,585 779.2,593.3 771.7,593.3 770.8,586.7 765,580"/>
<polygon points="944.5,562 967.5,559.5 967,578 961,585 959.5,593 951.5,593 950,585 944,579"/>
<polygon points="474.3,616 478.3,612.7 497.7,614.7 503.7,620 512.3,622 511.7,630 503,630.7 497.7,636 479.7,635.3 477,632.7"/>
<polygon points="239.7,736.1 248.4,734.3 254.4,729.7 272.2,730.2 276.8,734.7 275,752.6 254.8,751.2 247.5,745.7 239.2,743.9"/>
</g>
<g fill="#c2a66c">
<polygon points="770,554.2 782.5,550.4 783.75,560.8 770.4,565"/>
<polygon points="950,553.5 962,550 963,561 949.5,564"/>
<polygon points="467.7,618 475,616.7 481.7,629.3 471.7,630.7"/>
<polygon points="268,737 278,733 285,747 274,750"/>
</g>
<g fill="#3b2c12">
<polygon points="769.6,553.8 782.8,549.8 783,552.6 769.9,556.4"/>
<polygon points="949.6,553.1 962.3,549.4 962.5,552.1 949.8,555.8"/>
<polygon points="467.2,617.6 470.2,617.1 474,630.4 471.4,631"/>
<polygon points="277.6,732.6 280.5,731.8 285.6,746.8 283,747.6"/>
<circle cx="775.5" cy="558.5" r="0.9"/><circle cx="779.5" cy="557.3" r="0.9"/>
<circle cx="955" cy="557.8" r="0.9"/><circle cx="959" cy="556.6" r="0.9"/>
<circle cx="474" cy="622" r="0.9"/><circle cx="476" cy="626" r="0.9"/>
<circle cx="276" cy="739" r="0.9"/><circle cx="278.5" cy="743.5" r="0.9"/>
</g>

<!-- USB cable & outlet -->
<rect x="228" y="662.7" width="21.3" height="13.5" fill="#141414"/>
<rect x="250" y="665.6" width="5.7" height="7.1" fill="#a8b3bb"/>
<polygon points="185.8,709 199.8,709 201.8,737.8 184.8,737.8" fill="#2e3133"/>
<rect x="190" y="712" width="3" height="24" fill="#3c4043"/>
<path d="M186.5,703 H199 L200.5,709.5 H185 Z" fill="#1b1c1d"/>
<path d="M186,705.5 H199.5 M185.5,708 H200" stroke="#3a3c3e" stroke-width="0.8"/>
<rect x="187.7" y="737.8" width="12.8" height="9.9" fill="#a9afb4"/>
<rect x="187.7" y="737.8" width="12.8" height="2" fill="#7f868c"/>
<rect x="191" y="741" width="6" height="5" fill="#c3c8cc"/>
<rect x="177.1" y="752" width="40.4" height="60.9" fill="#9ba1a8"/>
<ellipse cx="196.2" cy="769" rx="13.5" ry="6.4" fill="#fff"/>
<ellipse cx="196.2" cy="793.8" rx="13.5" ry="6.4" fill="#fff"/>
<path d="M191.5,764 H200 L203.5,767 V776.5 H194 V771 H191.5 Z" fill="#111"/>
<rect x="195.5" y="770.5" width="8" height="3.5" fill="#8a8f94"/>
<rect x="192" y="790" width="1.7" height="7.5" fill="#111"/>
<rect x="199" y="790" width="1.7" height="7.5" fill="#111"/>

<!-- Labels -->
<g fill="#111" font-size="21.5" stroke="#111" stroke-width="0.3">
<text x="795.50" y="567.7" textLength="72.50" lengthAdjust="spacingAndGlyphs">Display</text>
<text x="873.00" y="567.7" textLength="7.60" lengthAdjust="spacingAndGlyphs">1</text>
<text x="974.00" y="567.7" textLength="71.80" lengthAdjust="spacingAndGlyphs">Display</text>
<text x="1050.50" y="567.7" textLength="12.20" lengthAdjust="spacingAndGlyphs">2</text>
<text x="589.00" y="617" textLength="56.80" lengthAdjust="spacingAndGlyphs">HDMI</text>
<text x="651.00" y="617" textLength="56.40" lengthAdjust="spacingAndGlyphs">Cable</text>
<text x="591.00" y="787.4" textLength="56.50" lengthAdjust="spacingAndGlyphs">HDMI</text>
<text x="652.50" y="787.4" textLength="55.90" lengthAdjust="spacingAndGlyphs">Cable</text>
</g>

<!-- Note -->
<g font-size="15.7" fill="#231f20" stroke="#231f20" font-style="italic">
<text x="21.00" y="1180" textLength="40.00" lengthAdjust="spacingAndGlyphs" font-weight="bold" stroke-width="0.2">Note:</text>
<text x="62.75" y="1180" textLength="27.75" lengthAdjust="spacingAndGlyphs" stroke-width="0.25">The</text>
<text x="92.25" y="1180" textLength="71.50" lengthAdjust="spacingAndGlyphs" stroke-width="0.25">maximum</text>
<text x="166.50" y="1180" textLength="71.50" lengthAdjust="spacingAndGlyphs" stroke-width="0.25">supported</text>
<text x="240.75" y="1180" textLength="37.00" lengthAdjust="spacingAndGlyphs" stroke-width="0.25">video</text>
<text x="281.50" y="1180" textLength="70.00" lengthAdjust="spacingAndGlyphs" stroke-width="0.25">resolution</text>
<text x="354.25" y="1180" textLength="28.25" lengthAdjust="spacingAndGlyphs" stroke-width="0.25">and</text>
<text x="386.00" y="1180" textLength="53.00" lengthAdjust="spacingAndGlyphs" stroke-width="0.25">number</text>
<text x="443.00" y="1180" textLength="14.50" lengthAdjust="spacingAndGlyphs" stroke-width="0.25">of</text>
<text x="462.50" y="1180" textLength="61.50" lengthAdjust="spacingAndGlyphs" stroke-width="0.25">monitors</text>
<text x="525.25" y="1180" textLength="23.75" lengthAdjust="spacingAndGlyphs" stroke-width="0.25">will</text>
<text x="553.25" y="1180" textLength="51.75" lengthAdjust="spacingAndGlyphs" stroke-width="0.25">depend</text>
<text x="609.25" y="1180" textLength="18.00" lengthAdjust="spacingAndGlyphs" stroke-width="0.25">on</text>
<text x="629.75" y="1180" textLength="30.75" lengthAdjust="spacingAndGlyphs" stroke-width="0.25">your</text>
<text x="664.50" y="1180" textLength="60.00" lengthAdjust="spacingAndGlyphs" stroke-width="0.25">graphics</text>
<text x="727.50" y="1180" textLength="35.25" lengthAdjust="spacingAndGlyphs" stroke-width="0.25">card.</text>
<text x="764.00" y="1180" textLength="40.00" lengthAdjust="spacingAndGlyphs" stroke-width="0.25">Check</text>
<text x="808.50" y="1180" textLength="31.00" lengthAdjust="spacingAndGlyphs" stroke-width="0.25">your</text>
<text x="843.50" y="1180" textLength="60.00" lengthAdjust="spacingAndGlyphs" stroke-width="0.25">graphics</text>
<text x="905.75" y="1180" textLength="32.50" lengthAdjust="spacingAndGlyphs" stroke-width="0.25">card</text>
<text x="941.75" y="1180" textLength="35.75" lengthAdjust="spacingAndGlyphs" stroke-width="0.25">specs</text>
<text x="979.75" y="1180" textLength="17.50" lengthAdjust="spacingAndGlyphs" stroke-width="0.25">to</text>
<text x="1000.25" y="1180" textLength="66.25" lengthAdjust="spacingAndGlyphs" stroke-width="0.25">determine</text>
<text x="1071.25" y="1180" textLength="19.00" lengthAdjust="spacingAndGlyphs" stroke-width="0.25">its</text>
<text x="1092.00" y="1180" textLength="71.25" lengthAdjust="spacingAndGlyphs" stroke-width="0.25">capability.</text>
</g>
</svg>
</body></html>
